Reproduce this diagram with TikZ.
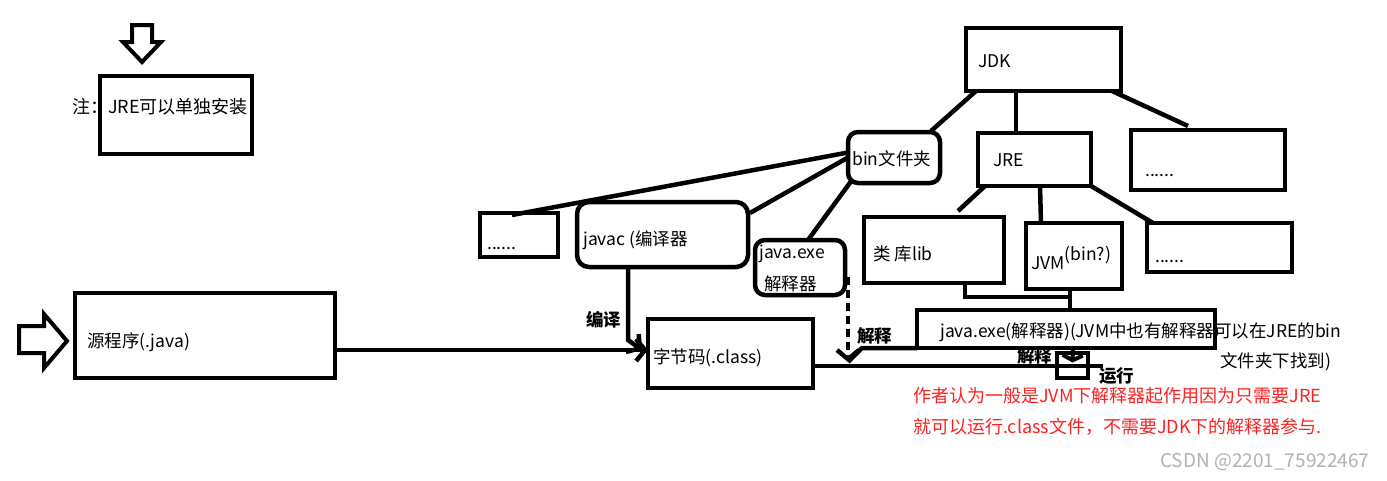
\documentclass[tikz,border=0pt]{standalone}
\usepackage{fontspec}
\setmainfont{Noto Sans CJK SC}
\usetikzlibrary{arrows.meta}
\definecolor{redtxt}{RGB}{250,35,35}
\definecolor{wmgray}{RGB}{178,178,178}
\begin{document}
\begin{tikzpicture}[x=1pt,y=-1pt,
  bx/.style={draw, line width=4.5pt, inner sep=0pt, outer sep=0pt},
  rbx/.style={bx, rounded corners=12pt},
  ln/.style={line width=4.5pt},
  txt/.style={anchor=west, inner sep=0pt, font=\fontsize{17.5}{20}\selectfont},
  lbl/.style={anchor=west, inner sep=0pt, font=\fontsize{17.5}{20}\selectfont\bfseries},
  redt/.style={anchor=west, inner sep=0pt, text=redtxt, font=\fontsize{18}{21}\selectfont},
  barb/.style={-{Straight Barb[length=9pt,width=22pt]}},
  smallbarb/.style={-{Straight Barb[length=5pt,width=20pt]}}
]
\useasboundingbox[fill=white] (0,0) rectangle (1387,480);

% decorative hollow arrows
\draw[line width=4pt, line join=miter] (132,25) -- (152,25) -- (152,42) -- (161,42) -- (142,62) -- (123,42) -- (132,42) -- cycle;
\draw[line width=4pt, line join=miter] (19,326) -- (44,326) -- (44,314) -- (67,341) -- (44,368) -- (44,353) -- (19,353) -- cycle;

% boxes
\node[bx, minimum width=152, minimum height=78] (note) at (176,115) {};
\node[bx, minimum width=260, minimum height=85] (src) at (205,335.5) {};
\node[bx, minimum width=165, minimum height=69] (bc) at (730.5,353.5) {};
\node[bx, minimum width=78, minimum height=44] (dots1) at (519,235) {};
\node[rbx, minimum width=171, minimum height=65] (javac) at (662.5,234.5) {};
\node[rbx, rounded corners=10pt, minimum width=90, minimum height=55] (javaexe) at (800,267.5) {};
\node[rbx, rounded corners=10pt, minimum width=92, minimum height=51] (bin) at (894,157.5) {};
\node[bx, minimum width=155, minimum height=63] (jdk) at (1043.5,59.5) {};
\node[bx, minimum width=113, minimum height=53] (jre) at (1034.5,159.5) {};
\node[bx, minimum width=154, minimum height=60] (dots2) at (1208,160) {};
\node[bx, minimum width=140, minimum height=66] (lib) at (934,250) {};
\node[bx, minimum width=96, minimum height=66] (jvm) at (1074,256) {};
\node[bx, minimum width=145, minimum height=49] (dots3) at (1219.5,247.5) {};
\node[bx, minimum width=298, minimum height=38] (interp) at (1066,329) {};

% texts in boxes
\node[txt, font=\fontsize{18}{20}\selectfont] (notet) at (72,107) {注：JRE可以单独安装};
\node[txt] (srct) at (87,342) {源程序(.java)};
\node[txt] (bct) at (653,358) {字节码(.class)};
\node[txt, anchor=base west] (dots1t) at (487,249) {......};
\node[txt] (javact) at (583,240) {javac (编译器};
\node[txt] (javaexet1) at (759,254) {java.exe};
\node[txt] (javaexet2) at (764,284) {解释器};
\node[txt] (bint) at (852,159) {bin文件夹};
\node[txt] (jdkt) at (978,61) {JDK};
\node[txt] (jret) at (993,160) {JRE};
\node[txt, anchor=base west] (dots2t) at (1145,176) {......};
\node[txt] (libt) at (873,254) {类 库lib};
\node[txt] (jvmt) at (1031,258) {JVM\raisebox{9pt}{(bin?)}};
\node[txt, anchor=base west] (dots3t) at (1155,262) {......};
\node[txt] (interpt1) at (940,332) {java.exe(解释器)(JVM中也有解释器可以在JRE的bin};
\node[txt] (interpt2) at (1220,362) {文件夹下找到)};

% connectors of the tree
\draw[ln] ([xshift=10pt]jdk.south west) -- ([xshift=-9pt,yshift=1pt]bin.north east);
\draw[ln] ([xshift=-27.5pt]jdk.south) -- ([xshift=-18.5pt]jre.north);
\draw[ln] ([xshift=-9pt]jdk.south east) -- ([xshift=-20pt,yshift=4pt]dots2.north);
\draw[ln] ([xshift=7pt]jre.south west) -- ([xshift=24pt,yshift=6pt]lib.north);
\draw[ln] ([xshift=5.5pt]jre.south) -- ([xshift=-33pt]jvm.north);
\draw[ln] (jre.south east) -- ([xshift=6pt]dots3.north west);
\draw[ln] ([yshift=5pt]bin.west) -- ([xshift=-7pt,yshift=-2pt]dots1.north);
\draw[ln] (bin.west) -- ([xshift=2pt,yshift=-11pt]javac.north east);
\draw[ln] ([xshift=4pt,yshift=3pt]bin.south west) -- ([xshift=8pt]javaexe.north);
\coordinate (jn) at (1070,297);
\draw[ln] ([xshift=31pt]lib.south) |- (jn);
\draw[ln] ([xshift=-4pt]jvm.south) -- ([xshift=4pt]interp.north);

% flow
\draw[ln, barb] ([yshift=-14.5pt]src.east) -- ([yshift=3.5pt]bc.west);
\draw[ln, barb] ([xshift=-34.5pt]javac.south) -- ++(0,73) -- ([xshift=-6pt,yshift=3.5pt]bc.west);
\coordinate (dtip) at (848,362);
\coordinate (ibend) at (862,348);
\coordinate (lend) at (1103,366);
\draw[ln] ([yshift=-12.5pt]bc.east) -- (lend);
\draw[ln, barb, dash pattern=on 8pt off 5pt] ([xshift=3pt,yshift=18pt]javaexe.south east) -- (dtip);
\draw[ln] (interp.south west) -- (ibend) -- (dtip);
\node[bx, minimum width=31, minimum height=25] (run) at (1072.5,365.5) {};
\draw[line width=4pt, smallbarb] ([xshift=7pt]interp.south) -- ([yshift=3pt]run.center);

% labels
\node[lbl] (l1) at (586,320) {编译};
\node[lbl] (l2) at (857,336) {解释};
\node[lbl] (l3) at (1017,356) {解释};
\node[lbl] (l4) at (1099,376) {运行};

% red note
\node[redt] (r1) at (913,396) {作者认为一般是JVM下解释器起作用因为只需要JRE};
\node[redt] (r2) at (913,427) {就可以运行.class文件，不需要JDK下的解释器参与.};

% watermark
\node[anchor=west, inner sep=0pt, text=wmgray, font=\fontsize{19}{21}\selectfont] (wm) at (1160,462) {CSDN @2201\_75922467};
\end{tikzpicture}
\end{document}
